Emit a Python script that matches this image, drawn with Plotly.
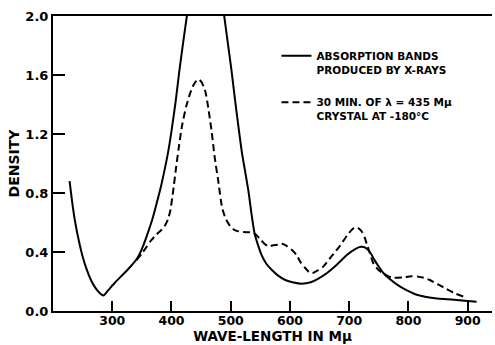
import plotly.graph_objects as go

# Solid curve: absorption bands produced by X-rays
solid_wl = [228, 233, 238, 244, 250, 257, 264, 271, 278, 285, 293, 304, 315, 327, 337, 344,
            352, 361, 368, 375, 382, 388, 394, 400, 407, 413, 420, 427, 435, 447, 460, 475,
            489, 495, 501, 507, 513, 519, 525, 530, 535, 540, 545, 552, 560, 569, 580, 592,
            606, 620, 635, 648, 662, 678, 696, 710, 720, 727, 735, 742, 750, 758, 772, 786,
            800, 814, 830, 848, 865, 881, 900, 915]
solid_density = [0.88, 0.72, 0.59, 0.47, 0.37, 0.28, 0.21, 0.16, 0.125, 0.105, 0.14, 0.19, 0.235, 0.285, 0.33, 0.37,
                 0.44, 0.54, 0.625, 0.73, 0.84, 0.95, 1.07, 1.22, 1.42, 1.62, 1.83, 2.03, 2.3, 2.5, 2.55, 2.4,
                 2.0, 1.82, 1.64, 1.44, 1.25, 1.07, 0.93, 0.81, 0.66, 0.53, 0.46, 0.38, 0.32, 0.28, 0.24, 0.21,
                 0.193, 0.185, 0.195, 0.22, 0.256, 0.31, 0.38, 0.42, 0.435, 0.43, 0.40, 0.35, 0.30, 0.256, 0.205, 0.165,
                 0.135, 0.11, 0.095, 0.085, 0.08, 0.075, 0.068, 0.063]

# Dashed curve: 30 min of lambda = 435 mu, crystal at -180 C
dashed_wl = [341, 350, 358, 366, 375, 383, 389, 394, 398, 403, 408, 412, 418, 425, 431, 437,
             442, 446, 451, 457, 462, 468, 473, 479, 485, 491, 499, 506, 513, 522, 535, 542,
             549, 556, 563, 572, 580, 588, 595, 603, 611, 618, 625, 632, 638, 647, 656, 670,
             684, 696, 707, 714, 721, 726, 730, 735, 741, 749, 757, 766, 775, 790, 805, 816,
             826, 836, 850, 864, 878, 893]
dashed_density = [0.345, 0.39, 0.435, 0.48, 0.52, 0.55, 0.58, 0.62, 0.68, 0.82, 0.98, 1.10, 1.26, 1.39, 1.47, 1.53,
                  1.56, 1.57, 1.55, 1.49, 1.38, 1.21, 1.04, 0.88, 0.71, 0.63, 0.575, 0.55, 0.54, 0.535, 0.533, 0.52,
                  0.49, 0.46, 0.44, 0.445, 0.45, 0.455, 0.44, 0.415, 0.38, 0.33, 0.295, 0.265, 0.258, 0.275, 0.30, 0.37,
                  0.44, 0.51, 0.56, 0.565, 0.54, 0.50, 0.45, 0.39, 0.32, 0.28, 0.255, 0.235, 0.225, 0.228, 0.235, 0.233,
                  0.225, 0.21, 0.18, 0.15, 0.12, 0.097]

x_ticks = [300, 400, 500, 600, 700, 800, 900]
y_ticks = [0.0, 0.4, 0.8, 1.2, 1.6, 2.0]

solid_name = "ABSORPTION BANDS<br>PRODUCED BY X-RAYS"
dashed_name = "30 MIN. OF λ = 435 Mμ<br>CRYSTAL AT -180°C"

FONT = "DejaVu Sans"

fig = go.Figure()
fig.add_trace(go.Scatter(x=solid_wl, y=solid_density, mode="lines", name=solid_name,
                         legendgroup="a",
                         line=dict(color="black", width=2, shape="spline", smoothing=0.6)))
fig.add_trace(go.Scatter(x=dashed_wl, y=dashed_density, mode="lines", name=dashed_name,
                         legendgroup="b",
                         line=dict(color="black", width=2, dash="7px,4px", shape="spline", smoothing=0.6)))

fig.update_layout(
    width=495, height=345,
    margin=dict(l=53, r=3, t=16, b=34),
    paper_bgcolor="white", plot_bgcolor="white",
    font=dict(family=FONT, color="black", size=13, weight="bold"),
    showlegend=True,
    legend=dict(x=0.509, y=0.91, xanchor="left", yanchor="top", valign="top",
                font=dict(family=FONT, size=10.5, weight="bold", color="black"),
                bgcolor="rgba(0,0,0,0)", tracegroupgap=16, itemwidth=30),
    xaxis=dict(range=[200, 941], tickvals=x_ticks, ticks="inside", ticklen=10, tickwidth=2,
               tickcolor="black", showline=True, linewidth=2, linecolor="black", mirror=True,
               showgrid=False, zeroline=False, ticklabelstandoff=-3,
               tickfont=dict(family=FONT, size=12.5, weight="bold"),
               title=dict(text="WAVE-LENGTH IN Mμ", standoff=3,
                          font=dict(family=FONT, size=13.5, weight="bold"))),
    yaxis=dict(range=[0, 2.0], tickvals=y_ticks, tickformat=".1f", ticks="inside", ticklen=12,
               tickwidth=2, tickcolor="black", showline=True, linewidth=2, linecolor="black",
               mirror=False, showgrid=False, zeroline=False,
               tickfont=dict(family=FONT, size=13, weight="bold"),
               title=dict(text="DENSITY", standoff=2,
                          font=dict(family=FONT, size=14, weight="bold"))),
)

fig.write_html("out.html", config={"displayModeBar": False},
               post_script="document.body.style.margin='0';")
